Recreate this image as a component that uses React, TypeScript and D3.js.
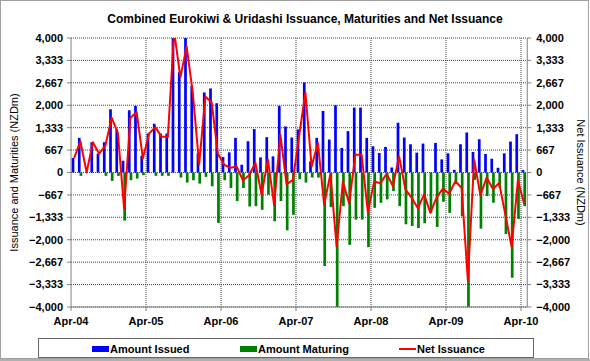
import React from 'react';
import * as d3 from 'd3';

// monthly, Apr-04 .. Apr-10 (NZD m)
const months = d3.timeMonth.range(new Date(2004, 3, 1), new Date(2010, 4, 1));

const amountIssued = [
  430, 1030, 0, 900, 560, 900, 1880, 1280, 350, 1850,
  1980, 500, 1160, 1450, 1160, 1160, 4200, 2980, 4050, 2580,
  570, 2380, 2500, 2060, 460, 600, 1030, 230, 930, 1290,
  450, 1050, 480, 1980, 1370, 1040, 1280, 2680, 330, 1030,
  1830, 980, 2000, 730, 1230, 1930, 1930, 1030, 780, 580,
  760, 150, 1480, 1040, 840, 590, 860, 0, 880, 390,
  570, 80, 840, 1190, 610, 990, 550, 410, 140, 570,
  920, 1140, 70,
];

const amountMaturing = [
  0, -100, 0, 0, 0, -100, -250, -100, -1430, -230,
  -180, -80, 0, -100, -100, -100, 0, -150, -300, -230,
  -330, -130, -410, -1500, -230, -460, -850, -460, -1010, -1000,
  -1110, -660, -1450, -850, -1720, -1260, -200, -300, -150, -150,
  -2780, -1030, -4200, -1000, -2150, -1400, -1400, -2220, -1050, -900,
  -800, -550, -1000, -1540, -1590, -1650, -1510, -1200, -1620, -870,
  -1200, -340, -1300, -4400, -220, -1670, -700, -900, -450, -1830,
  -3130, -1380, -1000,
];

const netIssuance = [
  430, 930, 0, 900, 560, 800, 1630, 1180, -1080, 1620,
  1800, 420, 1160, 1350, 1060, 1060, 4200, 2830, 3750, 2350,
  240, 2250, 2090, 560, 230, 140, 180, -230, -80, 290,
  -660, 390, -970, 1130, -350, -220, 1080, 2380, 180, 880,
  -950, -50, -2200, -270, -920, 530, 530, -1190, -270, -320,
  -40, -400, 480, -500, -750, -1060, -650, -1200, -740, -480,
  -630, -260, -460, -3210, 390, -680, -150, -490, -310, -1260,
  -2210, -240, -930,
];

const yTicks = [4000, 3333, 2667, 2000, 1333, 667, 0, -667, -1333, -2000, -2667, -3333, -4000];
const xTickLabels = ['Apr-04', 'Apr-05', 'Apr-06', 'Apr-07', 'Apr-08', 'Apr-09', 'Apr-10'];

const W = 590;
const H = 361;
const font = '"Liberation Sans", Arial, sans-serif';

const App: React.FC = () => {
  const left = 71;
  const right = 527.25;
  const top = 38;
  const bottom = 307;

  const x = d3.scaleBand<number>()
    .domain(months.map((_, i) => i))
    .range([left, right])
    .padding(0);
  const bw = x.bandwidth();

  const y = d3.scaleLinear().domain([-4000, 4000]).range([bottom, top]);
  const fmt = d3.format(',');

  const line = d3.line<number>()
    .x((_, i) => (x(i) as number) + bw * 0.5)
    .y(d => y(d));

  const barW = 2.7;

  return (
    <svg width={W} height={H} style={{ position: 'absolute', left: 0, top: 0 }} fontFamily={font}>
      <rect x={0} y={0} width={W} height={H} fill="#ffffff" />
      <rect x={0.5} y={0.5} width={W - 2} height={H - 3} fill="none" stroke="#a0a0a0" />
      <rect x={0} y={H - 2} width={W} height={2} fill="#b0b0b0" />

      {/* title */}
      <text x={305} y={23} textAnchor="middle" fontSize={12} fontWeight="bold">
        Combined Eurokiwi &amp; Uridashi Issuance, Maturities and Net Issuance
      </text>

      <defs>
        <clipPath id="plot">
          <rect x={left} y={top} width={right - left} height={bottom - top} />
        </clipPath>
      </defs>

      {/* horizontal grid */}
      {yTicks.map(t => (
        <line key={`gy-${t}`} x1={left} x2={right} y1={y(t)} y2={y(t)}
          stroke="#444" strokeWidth={1} strokeDasharray="1 1" />
      ))}
      {/* vertical grid, one per year */}
      {xTickLabels.map((_, k) => k > 0 && (
        <line key={`gx-${k}`} x1={(x(k * 12) as number)} x2={(x(k * 12) as number)} y1={top} y2={bottom}
          stroke="#444" strokeWidth={1} strokeDasharray="1 1" />
      ))}

      <g clipPath="url(#plot)">
        {amountIssued.map((v, i) => (
          <rect key={`b-${i}`} x={(x(i) as number) + 0.65} width={barW}
            y={y(Math.max(0, v))} height={Math.abs(y(v) - y(0))} fill="#0000ff" />
        ))}
        {amountMaturing.map((v, i) => (
          <rect key={`g-${i}`} x={(x(i) as number) + 2.35} width={barW}
            y={y(0)} height={Math.abs(y(v) - y(0))} fill="#008000" />
        ))}
        <path d={line(netIssuance) || ''} fill="none" stroke="#ff0000" strokeWidth={2} strokeLinejoin="round" />
      </g>

      {/* axes */}
      <line x1={left} x2={left} y1={top} y2={bottom} stroke="#808080" />
      <line x1={right} x2={right} y1={top} y2={bottom} stroke="#808080" />
      <line x1={left} x2={right} y1={bottom} y2={bottom} stroke="#808080" />
      {yTicks.map(t => (
        <g key={`yt-${t}`}>
          <line x1={left - 4} x2={left} y1={y(t)} y2={y(t)} stroke="#808080" />
          <line x1={right} x2={right + 4} y1={y(t)} y2={y(t)} stroke="#808080" />
          <text x={left - 8} y={y(t)} dy="0.35em" textAnchor="end" fontSize={11} fontWeight="bold">{fmt(t)}</text>
          <text x={right + 9} y={y(t)} dy="0.35em" textAnchor="start" fontSize={11} fontWeight="bold">{fmt(t)}</text>
        </g>
      ))}
      {xTickLabels.map((lab, k) => {
        const xx = x(k * 12) as number;
        return (
          <g key={`xt-${k}`}>
            <line x1={xx} x2={xx} y1={bottom} y2={bottom + 4} stroke="#808080" />
            <text x={xx} y={325} textAnchor="middle" fontSize={11} fontWeight="bold">{lab}</text>
          </g>
        );
      })}

      {/* axis titles */}
      <text transform={`translate(18, ${(top + bottom) / 2}) rotate(-90)`} textAnchor="middle" fontSize={11}>
        Issuance and Maturities (NZDm)
      </text>
      <text transform={`translate(577, ${(top + bottom) / 2}) rotate(90)`} textAnchor="middle" fontSize={11}>
        Net Issuance (NZDm)
      </text>

      {/* legend */}
      <rect x={38.5} y={338.5} width={495} height={19} fill="#fff" stroke="#666" />
      <rect x={92} y={346} width={17} height={6} fill="#0000ff" />
      <text x={110} y={352.5} fontSize={11} fontWeight="bold">Amount Issued</text>
      <rect x={240} y={346} width={17} height={6} fill="#008000" />
      <text x={258} y={352.5} fontSize={11} fontWeight="bold">Amount Maturing</text>
      <line x1={399} x2={416} y1={349} y2={349} stroke="#ff0000" strokeWidth={2} />
      <text x={417} y={352.5} fontSize={11} fontWeight="bold">Net Issuance</text>
    </svg>
  );
};

export default App;
